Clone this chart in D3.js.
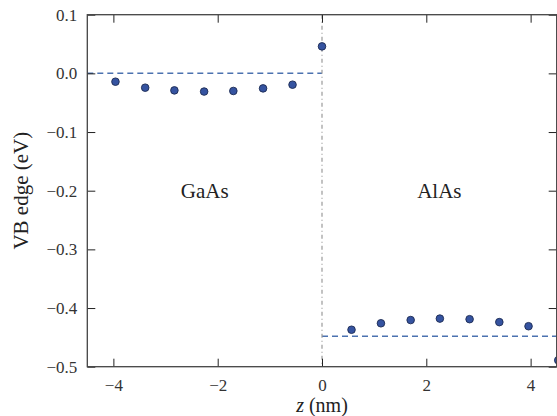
<!DOCTYPE html>
<html><head><meta charset="utf-8">
<script src="https://cdn.jsdelivr.net/npm/d3@7"></script>
<style>
body{margin:0;background:#fff;}
svg text{font-family:"Times New Roman","Liberation Serif",Times,"DejaVu Serif",serif;}
</style></head>
<body><svg id="c" width="557" height="416"></svg>
<script>
const zGaAs = [-3.96, -3.39, -2.83, -2.26, -1.70, -1.13, -0.565];
const vbGaAs = [-0.0142, -0.0244, -0.029, -0.031, -0.030, -0.0256, -0.0193];
const zInterface = [0];
const vbInterface = [0.046];
const zAlAs = [0.566, 1.13, 1.70, 2.26, 2.83, 3.40, 3.96, 4.53];
const vbAlAs = [-0.437, -0.426, -0.4205, -0.418, -0.419, -0.424, -0.431, -0.489];
const refGaAs = 0.0;
const refAlAs = -0.448;
const xTicks = [-4, -2, 0, 2, 4];
const yTicks = [0.1, 0.0, -0.1, -0.2, -0.3, -0.4, -0.5];
const regionLabels = [{text:"GaAs", x:-2.25, y:-0.2},{text:"AlAs", x:2.25, y:-0.2}];

const FONT = '"Times New Roman","Liberation Serif",Times,serif';
const svg = d3.select("#c");
const L=87.3, R=556.7, T=14.7, B=366.7;
const x = d3.scaleLinear().domain([-4.5,4.5]).range([L,R]);
const y = d3.scaleLinear().domain([-0.5,0.1]).range([B,T]);
const fmtY = d => (d<0?"\u2212":"") + Math.abs(d).toFixed(1);
const fmtX = d => (d<0?"\u2212":"") + Math.abs(d);

svg.append("clipPath").attr("id","pc").append("rect")
  .attr("x",L).attr("y",T).attr("width",R-L).attr("height",B-T);
const plot = svg.append("g").attr("clip-path","url(#pc)");

plot.append("line").attr("x1",x(-4.5)).attr("x2",x(0)).attr("y1",y(refGaAs)).attr("y2",y(refGaAs))
  .attr("stroke","#4c72b0").attr("stroke-width",1.5).attr("stroke-dasharray","6,4");
plot.append("line").attr("x1",x(0)).attr("x2",x(4.5)).attr("y1",y(refAlAs)).attr("y2",y(refAlAs))
  .attr("stroke","#4c72b0").attr("stroke-width",1.5).attr("stroke-dasharray","6,4");
plot.append("line").attr("x1",x(0)).attr("x2",x(0)).attr("y1",y(0.1)).attr("y2",y(-0.5))
  .attr("stroke","#999").attr("stroke-width",1.2).attr("stroke-dasharray","4,3,1,3");

const pts = [];
zGaAs.forEach((z,i)=>pts.push([z,vbGaAs[i]]));
zInterface.forEach((z,i)=>pts.push([z,vbInterface[i]]));
zAlAs.forEach((z,i)=>pts.push([z,vbAlAs[i]]));
plot.selectAll("circle").data(pts).enter().append("circle")
  .attr("cx",d=>x(d[0])).attr("cy",d=>y(d[1])).attr("r",3.8)
  .attr("fill","#3553a0").attr("stroke","#1c2a52").attr("stroke-width",0.9);

const tl = 8;
const gB = svg.append("g").attr("transform",`translate(0,${B})`)
  .call(d3.axisBottom(x).tickValues(xTicks).tickSize(-tl).tickPadding(12).tickFormat(fmtX));
const gT = svg.append("g").attr("transform",`translate(0,${T})`)
  .call(d3.axisTop(x).tickValues(xTicks).tickSize(-tl).tickFormat(""));
const gL = svg.append("g").attr("transform",`translate(${L},0)`)
  .call(d3.axisLeft(y).tickValues(yTicks).tickSize(-tl).tickPadding(10).tickFormat(fmtY));
const gR = svg.append("g").attr("transform",`translate(${R},0)`)
  .call(d3.axisRight(y).tickValues(yTicks).tickSize(-tl).tickFormat(""));
[gB,gT,gL,gR].forEach(g=>{
  g.attr("font-family",FONT);
  g.select(".domain").remove();
  g.selectAll(".tick line").attr("stroke","#222").attr("stroke-width",1);
  g.selectAll(".tick text").attr("fill","#333").style("font-size","17px").style("font-family",FONT);
});
svg.append("rect").attr("x",L).attr("y",T).attr("width",R-L).attr("height",B-T)
  .attr("fill","none").attr("stroke","#444").attr("stroke-width",1.3);

svg.selectAll(".rl").data(regionLabels).enter().append("text").attr("class","rl")
  .attr("x",d=>x(d.x)).attr("y",d=>y(d.y)).attr("dy","0.33em").attr("text-anchor","middle")
  .attr("fill","#222").style("font-family",FONT).style("font-size","21px").text(d=>d.text);

const xl = svg.append("text").attr("x",x(0)).attr("y",412).attr("text-anchor","middle")
  .attr("fill","#222").style("font-family",FONT).style("font-size","20px");
xl.append("tspan").style("font-style","italic").text("z");
xl.append("tspan").text(" (nm)");
svg.append("text").attr("transform",`translate(28,${(T+B)/2}) rotate(-90)`).attr("text-anchor","middle")
  .attr("fill","#222").style("font-family",FONT).style("font-size","21px").text("VB edge (eV)");
</script></body></html>
